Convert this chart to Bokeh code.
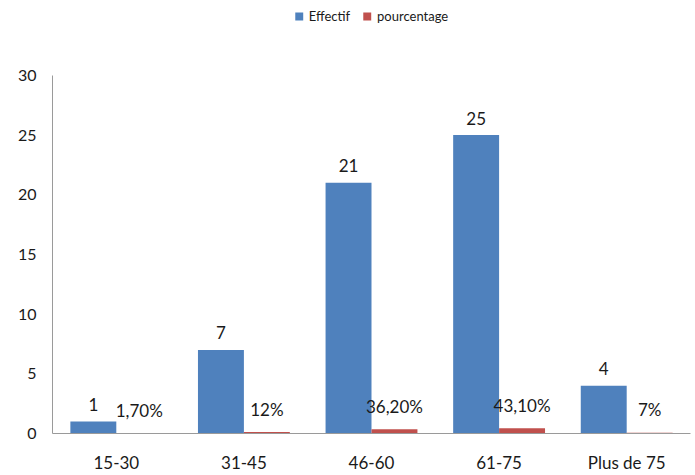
from bokeh.plotting import figure
from bokeh.models import FactorRange, Range1d, Legend, LegendItem, ColumnDataSource, FixedTicker
from bokeh.transform import dodge
from bokeh.core.properties import value
from bokeh.embed import file_html
from bokeh.resources import INLINE

categories = ["15-30", "31-45", "46-60", "61-75", "Plus de 75"]
effectif = [1, 7, 21, 25, 4]
pourcentage = [0.017, 0.12, 0.362, 0.431, 0.07]
effectif_labels = ["1", "7", "21", "25", "4"]
pourcentage_labels = ["1,70%", "12%", "36,20%", "43,10%", "7%"]
y_ticks = [0, 5, 10, 15, 20, 25, 30]

src = ColumnDataSource(dict(cats=categories, eff=effectif, pct=pourcentage,
                            eff_lbl=effectif_labels, pct_lbl=pourcentage_labels))

FONT = "Lato"
BLUE = "#4F81BD"
RED = "#C0504D"

p = figure(x_range=FactorRange(*categories), y_range=Range1d(0, 36.27),
           width=695, height=475, output_backend="svg", toolbar_location=None,
           min_border_left=52, min_border_right=5, min_border_top=0, min_border_bottom=41)

r_eff = p.vbar(x=dodge("cats", -0.18, range=p.x_range), top="eff", width=0.36,
               source=src, fill_color=BLUE, line_color=None)
r_pct = p.vbar(x=dodge("cats", 0.18, range=p.x_range), top="pct", width=0.36,
               source=src, fill_color=RED, line_color=None)

p.text(x=dodge("cats", -0.18, range=p.x_range), y="eff", text="eff_lbl", source=src,
       text_align="center", text_baseline="middle", y_offset=-17,
       text_font=value(FONT), text_font_size="17px", text_color="#1a1a1a")
p.text(x=dodge("cats", 0.18, range=p.x_range), y="pct", text="pct_lbl", source=src,
       text_align="center", text_baseline="middle", y_offset=-23,
       text_font=value(FONT), text_font_size="17px", text_color="#1a1a1a")

p.grid.visible = False
p.outline_line_color = None
p.background_fill_color = "white"

ya = p.yaxis[0]
ya.bounds = (0, 30)
ya.ticker = FixedTicker(ticks=y_ticks)
ya.major_tick_line_color = None
ya.minor_tick_line_color = None
ya.major_tick_out = 0
ya.major_tick_in = 0
ya.minor_tick_out = 0
ya.axis_line_color = "#9a9a9a"
ya.major_label_standoff = 16
ya.major_label_text_font = FONT
ya.major_label_text_font_size = "16px"
ya.major_label_text_color = "#1a1a1a"

xa = p.xaxis[0]
xa.major_tick_line_color = None
xa.minor_tick_line_color = None
xa.major_tick_out = 0
xa.major_tick_in = 0
xa.minor_tick_out = 0
xa.axis_line_color = "#9a9a9a"
xa.major_label_standoff = 18
xa.major_label_text_font = FONT
xa.major_label_text_font_size = "17px"
xa.major_label_text_color = "#1a1a1a"

legend = Legend(items=[LegendItem(label="Effectif", renderers=[r_eff]),
                       LegendItem(label="pourcentage", renderers=[r_pct])],
                location="top_center", orientation="horizontal",
                glyph_width=10, glyph_height=10, label_standoff=5, spacing=12,
                padding=0, margin=8, border_line_color=None,
                background_fill_alpha=0,
                label_text_font=FONT, label_text_font_size="13px",
                label_text_color="#1a1a1a")
p.add_layout(legend, "center")

open("out.html", "w").write(file_html(p, INLINE))
